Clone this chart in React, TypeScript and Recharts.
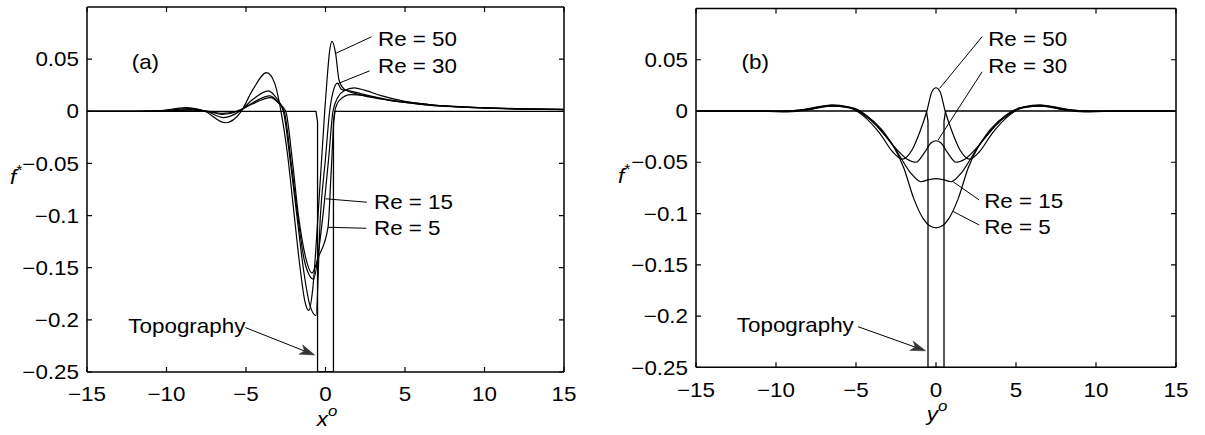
import React from "react";
import { LineChart, Line, XAxis, YAxis, ReferenceLine, ReferenceDot } from "recharts";

const xTicks = [-15, -10, -5, 0, 5, 10, 15];
const yTicks = [-0.25, -0.2, -0.15, -0.1, -0.05, 0, 0.05];

// topography (step of width 1 centred on 0)
const topoX = [-15, -0.6, -0.5, -0.5, 0.5, 0.5, 0.6, 15];
const topoY = [0, 0, -0.01, -0.25, -0.25, -0.01, 0, 0];

// (a) f* along x°
const aX50 = [-15, -12, -10.5, -8.8, -7.6, -6.3, -5.3, -4.6, -3.7, -3.2, -2.8, -2.4, -2.0, -1.6, -1.3, -1.05, -0.8, -0.47, -0.05, 0.12, 0.26, 0.41, 0.64, 0.85, 1.2, 2, 3, 4, 5, 6.5, 8, 10, 12, 15];
const aY50 = [0, 0, 0.0005, 0.0035, 0, -0.011, 0, 0.02, 0.037, 0.027, 0, -0.04, -0.095, -0.15, -0.182, -0.191, -0.17, -0.1, 0, 0.035, 0.058, 0.067, 0.055, 0.03, 0.021, 0.0165, 0.013, 0.0105, 0.0085, 0.006, 0.0045, 0.0032, 0.0024, 0.0018];
const aX30 = [-15, -12, -10.5, -8.6, -7.5, -6.4, -5.4, -4.6, -3.6, -3.1, -2.65, -2.2, -1.8, -1.4, -1.0, -0.6, -0.32, 0.0, 0.26, 0.5, 0.75, 1.0, 1.5, 2.2, 3, 4, 5, 6.5, 8, 10, 12, 15];
const aY30 = [0, 0, 0.0003, 0.0025, 0, -0.006, 0, 0.011, 0.0196, 0.013, 0, -0.05, -0.1, -0.15, -0.185, -0.196, -0.1, -0.045, 0, 0.02, 0.027, 0.021, 0.0195, 0.017, 0.014, 0.011, 0.009, 0.0065, 0.0048, 0.0034, 0.0025, 0.0018];
const aX15 = [-15, -12, -10.5, -8.5, -7.4, -6.5, -5.5, -4.6, -3.5, -3.0, -2.6, -2.15, -1.75, -1.3, -0.75, -0.4, -0.05, 0.2, 0.47, 0.8, 1.2, 1.8, 2.5, 3.5, 5, 6.5, 8, 10, 12, 15];
const aY15 = [0, 0, 0.0002, 0.0015, 0, -0.003, 0, 0.008, 0.0147, 0.009, 0, -0.05, -0.1, -0.145, -0.161, -0.13, -0.084, -0.045, 0, 0.014, 0.02, 0.0225, 0.02, 0.015, 0.0095, 0.0065, 0.0047, 0.0033, 0.0024, 0.0017];
const aX5 = [-15, -12, -10.5, -8.5, -7.4, -6.5, -5.6, -4.6, -3.45, -2.95, -2.5, -2.1, -1.7, -1.25, -0.85, -0.45, 0.16, 0.35, 0.58, 0.9, 1.6, 2.5, 3.5, 5, 6.5, 8, 10, 12, 15];
const aY5 = [0, 0, 0.0001, 0.001, 0, -0.002, 0, 0.007, 0.0131, 0.008, 0, -0.045, -0.1, -0.14, -0.155, -0.14, -0.111, -0.06, 0, 0.011, 0.016, 0.015, 0.012, 0.0085, 0.006, 0.0044, 0.0031, 0.0022, 0.0016];

// (b) f* along y°
const bX50 = [-15, -12, -10.5, -9.3, -8, -6.5, -5.5, -4.6, -3.5, -2.7, -2.1, -1.5, -1.0, -0.57, -0.25, 0, 0.25, 0.57, 1.0, 1.5, 2.1, 2.7, 3.5, 4.6, 5.5, 6.5, 8, 9.3, 10.5, 12, 15];
const bY50 = [0, 0, -0.0003, -0.0008, 0.001, 0.006, 0.004, -0.004, -0.022, -0.04, -0.047, -0.038, -0.02, 0, 0.019, 0.0227, 0.019, 0, -0.02, -0.038, -0.047, -0.04, -0.022, -0.004, 0.004, 0.006, 0.001, -0.0008, -0.0003, 0, 0];
const bX30 = [-15, -12, -10, -8.5, -6.8, -5.6, -4.6, -3.6, -2.6, -1.8, -1.25, -0.7, -0.3, 0, 0.3, 0.7, 1.25, 1.8, 2.6, 3.6, 4.6, 5.6, 6.8, 8.5, 10, 12, 15];
const bY30 = [0, 0, -0.0003, 0.001, 0.005, 0.004, -0.003, -0.016, -0.035, -0.047, -0.05, -0.04, -0.031, -0.029, -0.031, -0.04, -0.05, -0.047, -0.035, -0.016, -0.003, 0.004, 0.005, 0.001, -0.0003, 0, 0];
const bX15 = [-15, -12, -10, -8.5, -6.6, -5.4, -4.4, -3.4, -2.5, -1.6, -0.95, -0.45, 0, 0.45, 0.95, 1.6, 2.5, 3.4, 4.4, 5.4, 6.6, 8.5, 10, 12, 15];
const bY15 = [0, 0, -0.0003, 0.001, 0.005, 0.003, -0.004, -0.018, -0.038, -0.06, -0.069, -0.067, -0.066, -0.067, -0.069, -0.06, -0.038, -0.018, -0.004, 0.003, 0.005, 0.001, -0.0003, 0, 0];
const bX5 = [-15, -12, -10, -8.3, -6.3, -5.2, -4.3, -3.4, -2.6, -2.0, -1.4, -0.8, -0.4, 0, 0.4, 0.8, 1.4, 2.0, 2.6, 3.4, 4.3, 5.2, 6.3, 8.3, 10, 12, 15];
const bY5 = [0, 0, -0.0003, 0.001, 0.005, 0.003, -0.005, -0.02, -0.036, -0.056, -0.085, -0.105, -0.112, -0.114, -0.112, -0.105, -0.085, -0.056, -0.036, -0.02, -0.005, 0.003, 0.005, 0.001, -0.0003, 0, 0];

const FONT = "'Liberation Sans', Arial, Helvetica, sans-serif";
const FS = 20;
const SX = 1.12;
const TICK = 5;

const pts = (xs: number[], ys: number[]) => xs.map((x, i) => ({ x, y: ys[i] }));
const fmt = (v: number) => (v < 0 ? "\u2212" + String(Math.abs(v)) : String(v));

function stext(x: number, y: number, s: React.ReactNode, anchor = "start") {
  return (
    <text transform={`translate(${x},${y}) scale(${SX},1)`} textAnchor={anchor} fontFamily={FONT} fontSize={FS} fill="#000">
      {s}
    </text>
  );
}

// tick label plus inward tick marks on both opposite sides of the box
const makeYTick = (plotW: number) => (p: any) => {
  const ax = p.x + 8;
  return (
    <g>
      <path d={`M${ax},${p.y}h${TICK}M${ax + plotW - TICK},${p.y}h${TICK}`} stroke="#000" strokeWidth={1.2} fill="none" />
      {stext(p.x, p.y + FS * 0.36, fmt(p.payload.value), "end")}
    </g>
  );
};
const makeXTick = (plotH: number) => (p: any) => {
  const ay = p.y - 15;
  return (
    <g>
      <path d={`M${p.x},${ay}v${-TICK}M${p.x},${ay - plotH}v${TICK}`} stroke="#000" strokeWidth={1.2} fill="none" />
      {stext(p.x, p.y + FS * 0.72, fmt(p.payload.value), "middle")}
    </g>
  );
};

// leader arrow for "Topography"
const arrowShape = (p: any) => {
  const { x1, y1, x2, y2 } = p;
  const a = Math.atan2(y2 - y1, x2 - x1);
  const c = Math.cos(a), s = Math.sin(a);
  const L = 15, W = 5, N = 11;
  const pts2 = [
    [x2, y2],
    [x2 - L * c + W * s, y2 - L * s - W * c],
    [x2 - N * c, y2 - N * s],
    [x2 - L * c - W * s, y2 - L * s + W * c],
  ].map((q) => q.join(",")).join(" ");
  return (
    <g>
      <line x1={x1} y1={y1} x2={x2 - N * c} y2={y2 - N * s} stroke="#000" strokeWidth={1} />
      <polygon points={pts2} fill="#333" stroke="#333" strokeWidth={0.5} />
    </g>
  );
};

type Note = { text: string; at: [number, number]; from?: [number, number]; to?: [number, number] };

const notesA: Note[] = [
  { text: "Re = 50", at: [3.3, 0.0625], from: [2.89, 0.0714], to: [0.64, 0.0555] },
  { text: "Re = 30", at: [3.3, 0.0368], from: [2.78, 0.0388], to: [0.79, 0.0266] },
  { text: "Re = 15", at: [3.05, -0.0933], from: [2.6, -0.0872], to: [0.01, -0.0839] },
  { text: "Re = 5", at: [3.05, -0.1183], from: [2.57, -0.1122], to: [0.16, -0.1112] },
  { text: "(a)", at: [-12.19, 0.0404] },
  { text: "Topography", at: [-12.4, -0.2125] },
];
const arrowA: [number, number][] = [[-5.04, -0.2074], [-0.68, -0.2337]];

const notesB: Note[] = [
  { text: "Re = 50", at: [3.26, 0.0634], from: [2.88, 0.0725], to: [0.23, 0.0221] },
  { text: "Re = 30", at: [3.26, 0.0374], from: [2.88, 0.0383], to: [0.13, -0.0283] },
  { text: "Re = 15", at: [3.01, -0.0949], from: [2.7, -0.0868], to: [1.07, -0.069] },
  { text: "Re = 5", at: [3.01, -0.12], from: [2.7, -0.1112], to: [1.07, -0.098] },
  { text: "(b)", at: [-12.15, 0.041] },
  { text: "Topography", at: [-12.45, -0.2156] },
];
const arrowB: [number, number][] = [[-4.87, -0.2104], [-0.65, -0.2339]];

type PanelProps = {
  w: number;
  margin: { top: number; right: number; bottom: number; left: number };
  series: { x: number; y: number }[][];
  notes: Note[];
  arrow: [number, number][];
  axisName: string;
  xLab: [number, number];
  yLab: [number, number];
};

const Y_AXIS_W = 80;
const X_AXIS_H = 40;
const H = 435;

function Panel({ w, margin, series, notes, arrow, axisName, xLab, yLab }: PanelProps) {
  const axisLine = { stroke: "#000", strokeWidth: 1.5 };
  const plotW = w - margin.left - margin.right - Y_AXIS_W;
  const plotH = H - margin.top - margin.bottom - X_AXIS_H;
  return (
    <LineChart width={w} height={H} margin={margin}>
      <XAxis
        type="number" dataKey="x" domain={[-15, 15]} ticks={xTicks} interval={0} allowDataOverflow
        height={X_AXIS_H} tickSize={0} tickMargin={15} tick={makeXTick(plotH)} tickLine={false} axisLine={axisLine}
        label={{
          content: () => (
            <text transform={`translate(${xLab[0]},${xLab[1]}) scale(${SX},1)`} textAnchor="middle" fontFamily={FONT} fontSize={FS} fill="#000">
              <tspan fontStyle="italic">{axisName}</tspan>
              <tspan fontSize={15} dy={-10} fontStyle="italic">o</tspan>
            </text>
          ),
        }}
      />
      <YAxis
        type="number" domain={[-0.25, 0.1]} ticks={yTicks} interval={0} allowDataOverflow
        width={Y_AXIS_W} tickSize={0} tickMargin={8} tick={makeYTick(plotW)} tickLine={false} axisLine={axisLine}
        label={{
          content: () => (
            <text transform={`translate(${yLab[0]},${yLab[1]}) scale(${SX},1)`} fontFamily={FONT} fontSize={FS} fill="#000">
              <tspan fontStyle="italic">f</tspan>
              <tspan fontSize={14} dy={-9}>*</tspan>
            </text>
          ),
        }}
      />
      <ReferenceLine y={0.1} stroke="#000" strokeWidth={1.5} ifOverflow="visible" />
      <ReferenceLine x={15} stroke="#000" strokeWidth={1.5} ifOverflow="visible" />
      <Line data={pts(topoX, topoY)} dataKey="y" type="linear" stroke="#000" strokeWidth={1.3} dot={false} activeDot={false} isAnimationActive={false} />
      {series.map((d, i) => (
        <Line key={i} data={d} dataKey="y" type="monotone" stroke="#000" strokeWidth={1.2} dot={false} activeDot={false} isAnimationActive={false} />
      ))}
      {notes.filter((n) => n.from).map((n, i) => (
        <ReferenceLine key={"l" + i} segment={[{ x: n.from![0], y: n.from![1] }, { x: n.to![0], y: n.to![1] }]} stroke="#000" strokeWidth={1} />
      ))}
      <ReferenceLine segment={[{ x: arrow[0][0], y: arrow[0][1] }, { x: arrow[1][0], y: arrow[1][1] }]} shape={arrowShape} />
      {notes.map((n, i) => (
        <ReferenceDot key={"t" + i} x={n.at[0]} y={n.at[1]} r={0} fill="none" stroke="none"
          label={(p: any) => stext(p.viewBox.x, p.viewBox.y, n.text)} />
      ))}
    </LineChart>
  );
}

export default function App() {
  const seriesA = [pts(aX50, aY50), pts(aX30, aY30), pts(aX15, aY15), pts(aX5, aY5)];
  const seriesB = [pts(bX50, bY50), pts(bX30, bY30), pts(bX15, bY15), pts(bX5, bY5)];
  return (
    <div style={{ position: "absolute", left: 0, top: 0, width: 1205, height: 435, background: "#fff" }}>
      <div style={{ position: "absolute", left: 0, top: 0 }}>
        <Panel w={600} margin={{ top: 7, right: 36, bottom: 23, left: 7 }} series={seriesA} notes={notesA} arrow={arrowA}
          axisName="x" xLab={[327, 426]} yLab={[10, 184]} />
      </div>
      <div style={{ position: "absolute", left: 600, top: 0 }}>
        <Panel w={605} margin={{ top: 8.5, right: 29, bottom: 27.7, left: 16 }} series={seriesB} notes={notesB} arrow={arrowB}
          axisName="y" xLab={[337, 421]} yLab={[18, 183]} />
      </div>
    </div>
  );
}
